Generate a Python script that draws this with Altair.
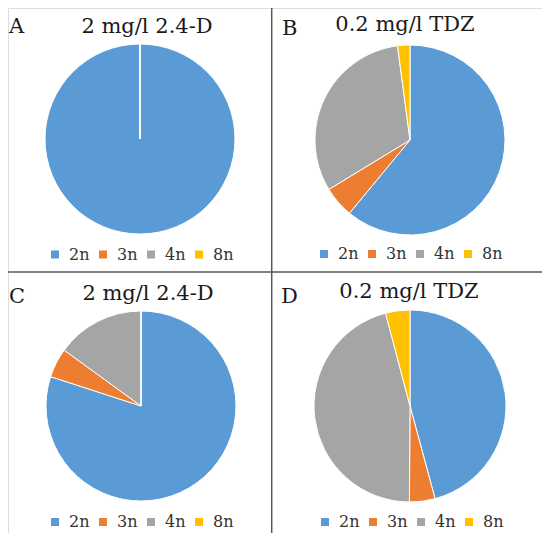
import altair as alt
import pandas as pd

# ---- data ----
categories = ["2n", "3n", "4n", "8n"]
colors = ["#5B9BD5", "#ED7D31", "#A5A5A5", "#FFC000"]

panel_labels = ["A", "B", "C", "D"]
panel_titles = ["2 mg/l 2.4-D", "0.2 mg/l TDZ", "2 mg/l 2.4-D", "0.2 mg/l TDZ"]

values_A = [100.0, 0.0, 0.0, 0.0]
values_B = [61.0, 5.3, 31.6, 2.1]
values_C = [80.0, 5.0, 15.0, 0.0]
values_D = [45.8, 4.3, 45.8, 4.1]
panel_values = [values_A, values_B, values_C, values_D]

# ---- layout (reference pixel coordinates; page margin is 8px) ----
OFF = 8
W, H = 534, 525
layout = [
    dict(cx=140, cy=139, r=95, tx=147, ty=33, lx=9, ly=33, gx=53, gy=253.5),
    dict(cx=410, cy=140, r=95, tx=405, ty=31, lx=282, ly=35, gx=322, gy=253),
    dict(cx=141, cy=406, r=95, tx=148, ty=300, lx=9, ly=303, gx=53, gy=521),
    dict(cx=410, cy=406, r=96, tx=409, ty=298, lx=281, ly=303, gx=323, gy=521),
]

FONT = "DejaVu Serif"
layers = []

for i, (lab, title, vals, lay) in enumerate(zip(panel_labels, panel_titles, panel_values, layout)):
    df = pd.DataFrame({"ploidy": categories, "value": vals, "order": list(range(len(categories)))})
    pie = (
        alt.Chart(df)
        .mark_arc(
            x=lay["cx"] - OFF,
            y=lay["cy"] - OFF,
            radius=lay["r"],
            stroke="white",
            strokeWidth=1,
        )
        .encode(
            theta=alt.Theta("value:Q", stack=True),
            order=alt.Order("order:Q"),
            color=alt.Color(
                "ploidy:N",
                scale=alt.Scale(domain=categories, range=colors),
                legend=alt.Legend(
                    orient="none",
                    legendX=lay["gx"] - OFF - 6,
                    legendY=lay["gy"] - OFF - 7,
                    direction="horizontal",
                    title=None,
                    symbolType="square",
                    symbolSize=64,
                    symbolStrokeWidth=0,
                    symbolOpacity=1,
                    labelFont=FONT,
                    labelFontSize=16,
                    labelColor="#333333",
                    labelOffset=6,
                    columnPadding=5,
                    padding=0,
                ),
            ),
        )
    )
    layers.append(pie)

    base = alt.Chart(alt.Data(values=[{}]))
    layers.append(
        base.mark_text(
            x=lay["lx"] - OFF, y=lay["ly"] - OFF, align="left", baseline="alphabetic",
            font=FONT, fontSize=21, color="#1a1a1a",
        ).encode(text=alt.value(lab))
    )
    layers.append(
        base.mark_text(
            x=lay["tx"] - OFF, y=lay["ty"] - OFF, align="center", baseline="alphabetic",
            font=FONT, fontSize=21, color="#1a1a1a",
        ).encode(text=alt.value(title))
    )

# dividing cross
rule_base = alt.Chart(alt.Data(values=[{}]))
vline = rule_base.mark_rule(color="#595959", strokeWidth=1.5).encode(
    x=alt.value(271.7 - OFF), y=alt.value(0), y2=alt.value(H)
)
hline = rule_base.mark_rule(color="#595959", strokeWidth=1.5).encode(
    x=alt.value(0), x2=alt.value(546 - OFF), y=alt.value(272 - OFF)
)
layers += [vline, hline]

chart = (
    alt.layer(*layers)
    .resolve_scale(theta="independent", color="independent")
    .properties(width=W, height=H, autosize=alt.AutoSizeParams(type="none"), padding=0)
    .configure_view(stroke=None)
    .configure(background="white")
)

chart.save("out.html", embed_options={"renderer": "svg", "actions": False})
